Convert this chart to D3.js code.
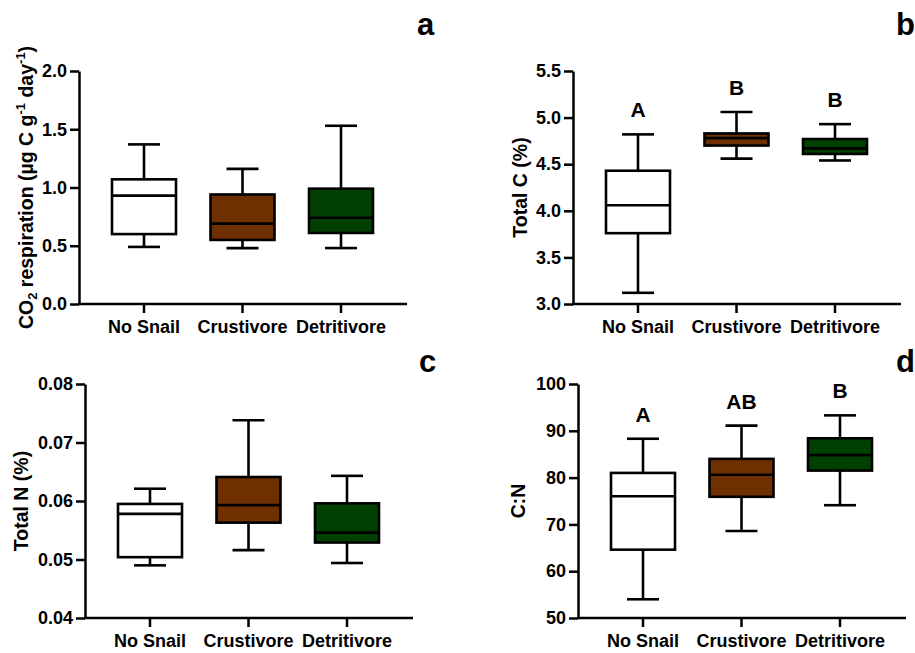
<!DOCTYPE html>
<html lang="en">
<head>
<meta charset="UTF-8">
<title>Snail treatments boxplots</title>
<script src="https://cdn.jsdelivr.net/npm/d3@7"></script>
<style>
    body { margin: 0; background: #fff; }
    svg { display: block; font-family: "Liberation Sans", Arial, sans-serif; font-weight: bold; }
    .axis path, .axis line { stroke: #000; stroke-width: 2.5px; }
    .axis text { font-size: 18px; font-weight: bold; fill: #000; }
</style>
</head>
<body>
<svg id="chart" width="915" height="653"></svg>
<script>
// treatments
const groups = ["No Snail", "Crustivore", "Detritivore"];
const fills = ["#ffffff", "#6e3000", "#004000"];

// box stats per group: [min, q1, median, q3, max]
const respiration = [
    [0.49, 0.60, 0.93, 1.07, 1.37],
    [0.48, 0.55, 0.69, 0.94, 1.16],
    [0.48, 0.61, 0.74, 0.99, 1.53]
];
const totalC = [
    [3.12, 3.76, 4.06, 4.43, 4.82],
    [4.56, 4.70, 4.78, 4.83, 5.06],
    [4.54, 4.61, 4.67, 4.77, 4.93]
];
const totalN = [
    [0.0490, 0.0504, 0.0578, 0.0595, 0.0621],
    [0.0516, 0.0563, 0.0593, 0.0641, 0.0738],
    [0.0494, 0.0529, 0.0546, 0.0596, 0.0643]
];
const ratioCN = [
    [54.0, 64.6, 76.0, 81.0, 88.3],
    [68.6, 75.9, 80.6, 84.0, 91.1],
    [74.1, 81.5, 84.8, 88.4, 93.3]
];

// significance letters
const lettersC = ["A", "B", "B"];
const lettersCN = ["A", "AB", "B"];

const respTicks = [0, 0.5, 1.0, 1.5, 2.0];
const cTicks = [3.0, 3.5, 4.0, 4.5, 5.0, 5.5];
const nTicks = [0.04, 0.05, 0.06, 0.07, 0.08];
const cnTicks = [50, 60, 70, 80, 90, 100];

const svg = d3.select("#chart");

const panels = [
    { id: "a", data: respiration, ticks: respTicks, fmt: d3.format(".1f"), letters: null,
      x0: 79, top: 71, bottom: 304, titleX: 33, title: "co2", labX: 417, labY: 35 },
    { id: "b", data: totalC, ticks: cTicks, fmt: d3.format(".1f"), letters: lettersC,
      x0: 573, top: 71, bottom: 304, titleX: 527, title: "Total C (%)", labX: 896, labY: 35 },
    { id: "c", data: totalN, ticks: nTicks, fmt: d3.format(".2f"), letters: null,
      x0: 85, top: 384, bottom: 618, titleX: 28, title: "Total N (%)", labX: 419, labY: 372 },
    { id: "d", data: ratioCN, ticks: cnTicks, fmt: d3.format("d"), letters: lettersCN,
      x0: 578, top: 384, bottom: 618, titleX: 525, title: "C:N", labX: 896, labY: 372 }
];

const axisLen = 328;
const boxW = 64, capW = 32;

panels.forEach(p => {
    const g = svg.append("g");

    const x = d3.scalePoint()
        .domain(groups)
        .range([p.x0 + 65, p.x0 + 262]);

    const y = d3.scaleLinear()
        .domain(d3.extent(p.ticks))
        .range([p.bottom, p.top]);

    // y axis
    g.append("g")
        .attr("class", "axis")
        .attr("transform", `translate(${p.x0},0)`)
        .call(d3.axisLeft(y).tickValues(p.ticks).tickFormat(p.fmt).tickSize(9).tickSizeOuter(0).tickPadding(3));

    // x axis line + ticks
    const xa = g.append("g")
        .attr("class", "axis")
        .attr("transform", `translate(0,${p.bottom})`);
    xa.append("line")
        .attr("x1", p.x0 - 1).attr("x2", p.x0 + axisLen)
        .attr("stroke", "#000").attr("stroke-width", 2.5);
    groups.forEach(gr => {
        xa.append("line")
            .attr("x1", x(gr)).attr("x2", x(gr))
            .attr("y1", 0).attr("y2", 9)
            .attr("stroke", "#000").attr("stroke-width", 2.5);
        xa.append("text")
            .attr("x", x(gr)).attr("y", 29)
            .attr("text-anchor", "middle")
            .text(gr);
    });

    // boxes
    p.data.forEach((s, i) => {
        const cx = x(groups[i]);
        const [mn, q1, md, q3, mx] = s;
        const bg = g.append("g").attr("stroke", "#000").attr("stroke-width", 2.6);
        bg.append("line").attr("x1", cx).attr("x2", cx).attr("y1", y(mx)).attr("y2", y(q3));
        bg.append("line").attr("x1", cx).attr("x2", cx).attr("y1", y(q1)).attr("y2", y(mn));
        bg.append("line").attr("x1", cx - capW / 2).attr("x2", cx + capW / 2).attr("y1", y(mx)).attr("y2", y(mx));
        bg.append("line").attr("x1", cx - capW / 2).attr("x2", cx + capW / 2).attr("y1", y(mn)).attr("y2", y(mn));
        bg.append("rect")
            .attr("x", cx - boxW / 2).attr("width", boxW)
            .attr("y", y(q3)).attr("height", y(q1) - y(q3))
            .attr("fill", fills[i]);
        bg.append("line").attr("x1", cx - boxW / 2).attr("x2", cx + boxW / 2).attr("y1", y(md)).attr("y2", y(md));

        if (p.letters) {
            g.append("text")
                .attr("x", cx).attr("y", y(mx) - 17)
                .attr("text-anchor", "middle")
                .attr("font-size", 21)
                .text(p.letters[i]);
        }
    });

    // y title
    const cy = (p.top + p.bottom) / 2;
    const t = g.append("text")
        .attr("transform", `translate(${p.titleX},${cy}) rotate(-90)`)
        .attr("text-anchor", "middle")
        .attr("font-size", 19.5);
    if (p.title === "co2") {
        t.append("tspan").text("CO");
        t.append("tspan").attr("font-size", 13).attr("dy", 4).text("2");
        t.append("tspan").attr("dy", -4).text(" respiration (µg C g");
        t.append("tspan").attr("font-size", 13).attr("dy", -8).text("-1");
        t.append("tspan").attr("dy", 8).text(" day");
        t.append("tspan").attr("font-size", 13).attr("dy", -8).text("-1");
        t.append("tspan").attr("dy", 8).text(")");
    } else {
        t.text(p.title);
    }

    // panel letter
    svg.append("text")
        .attr("x", p.labX)
        .attr("y", p.labY)
        .attr("font-size", 31)
        .text(p.id);
});
</script>
</body>
</html>
